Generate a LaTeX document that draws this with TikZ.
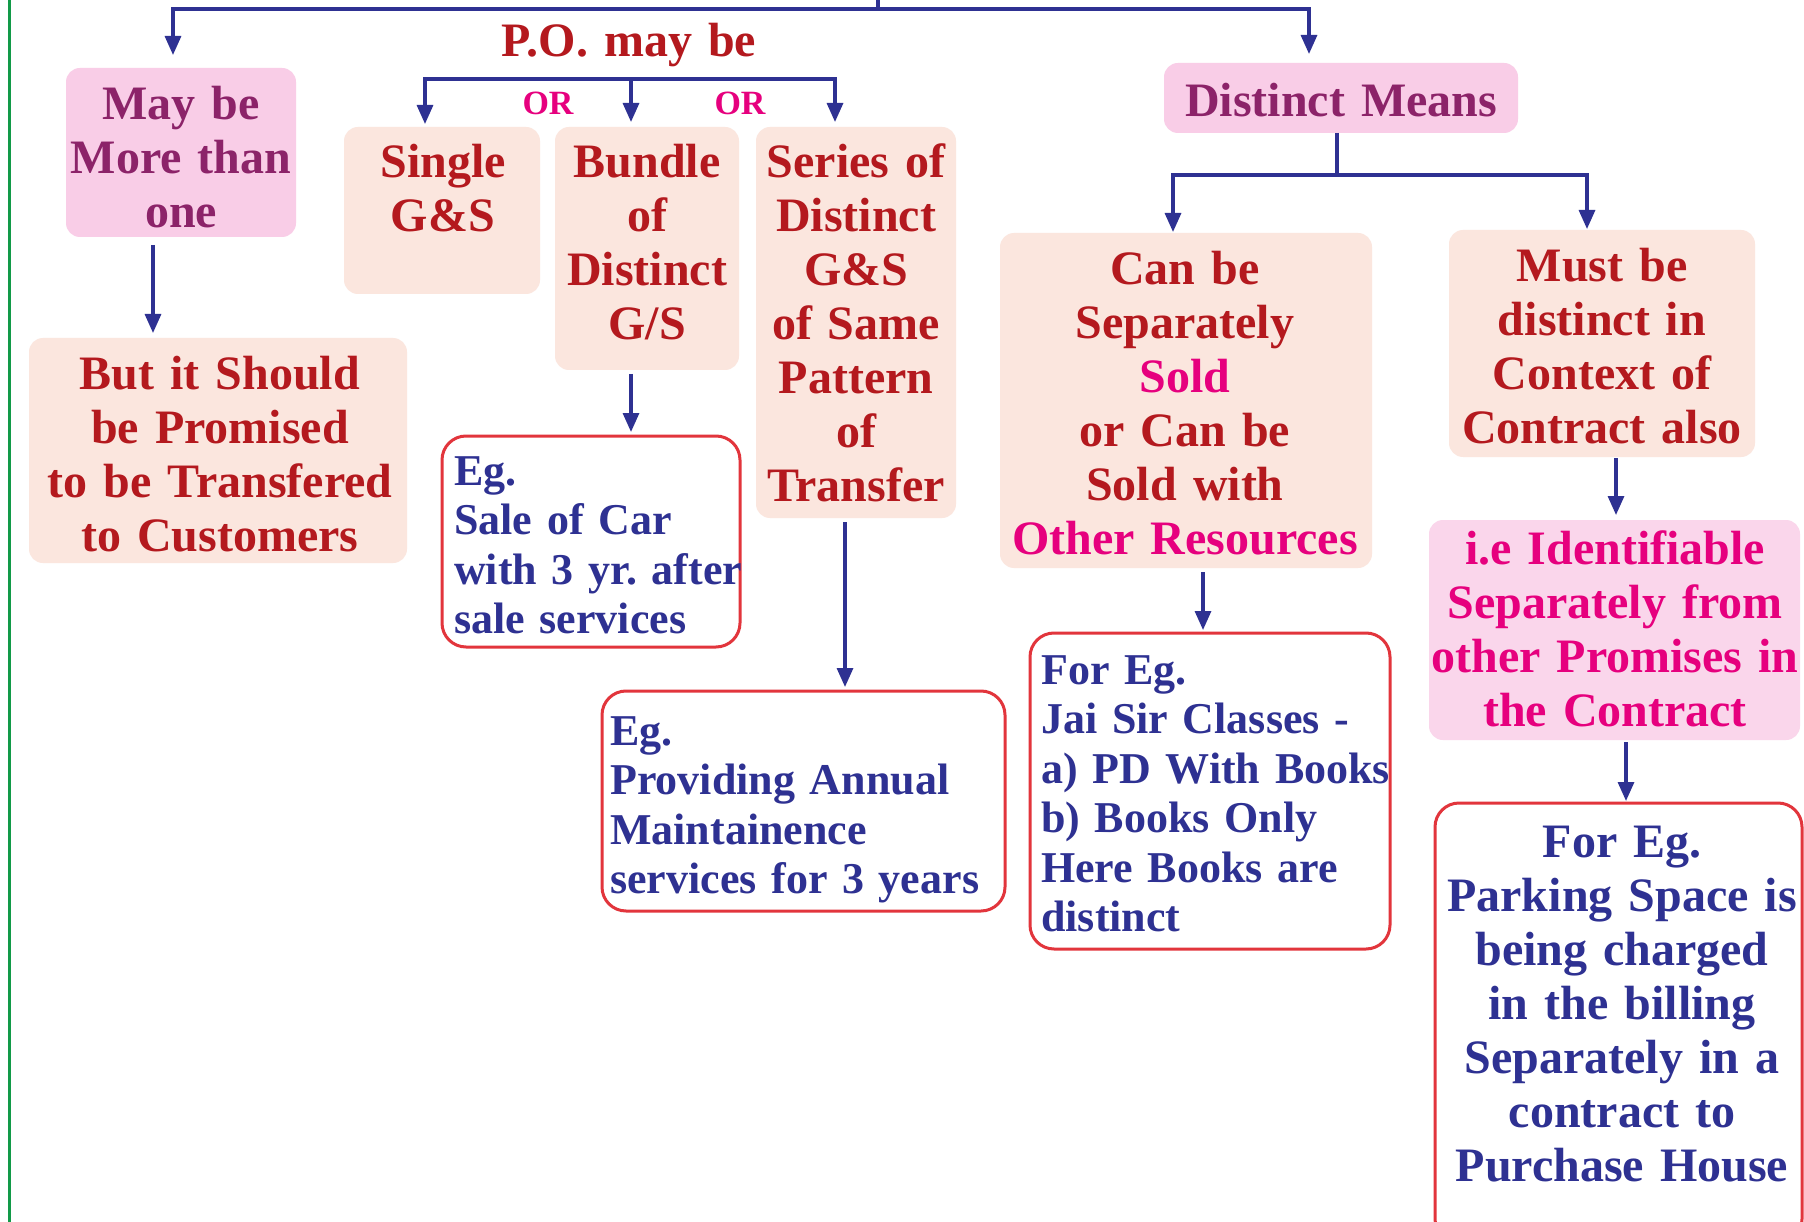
\documentclass[tikz,border=0pt]{standalone}
\usepackage{fontspec}
\setmainfont{Liberation Serif}
\usetikzlibrary{arrows.meta}
\definecolor{navy}{HTML}{2E3192}
\definecolor{darkredc}{HTML}{B4191E}
\definecolor{purplec}{HTML}{8C2369}
\definecolor{magentac}{HTML}{E6007E}
\definecolor{peachc}{HTML}{FBE6DE}
\definecolor{pinkc}{HTML}{F9CDE7}
\definecolor{pinkl}{HTML}{FAD6EB}
\definecolor{redc}{HTML}{E2353C}
\definecolor{greenc}{HTML}{129A48}
\begin{document}
\frenchspacing
\hyphenpenalty=10000
\begin{tikzpicture}[x=1pt,y=-1pt,
  line/.style={draw=navy, line width=3.2pt},
  arr/.style={line, -{Triangle[width=16pt,length=19pt]}},
  boxbase/.style={rounded corners=14pt, inner sep=0pt, outer sep=0pt, anchor=north west},
  peach/.style={boxbase, fill=peachc},
  pinkb/.style={boxbase, fill=pinkc},
  pinklb/.style={boxbase, fill=pinkl},
  redb/.style={boxbase, draw=redc, line width=3pt, fill=white, rounded corners=24pt},
  big/.style={font=\fontsize{48}{54}\selectfont\bfseries\frenchspacing, align=center, inner sep=0pt, anchor=base},
  small/.style={font=\fontsize{44}{49.5}\selectfont\bfseries\frenchspacing, align=left, inner sep=0pt, anchor=base west, text=navy},
  orlab/.style={font=\fontsize{34}{38}\selectfont\bfseries, inner sep=0pt, anchor=base, text=magentac},
]
\useasboundingbox (0,0) rectangle (1804,1222);
\clip (0,0) rectangle (1804,1222);
\fill[white] (0,0) rectangle (1804,1222);
\draw[greenc, line width=3pt] (9.5,0) -- (9.5,1222);

% boxes
\node[pinkb, minimum width=230pt, minimum height=169pt] (A) at (66,68) {};
\node[peach, minimum width=378pt, minimum height=225pt] (B) at (29,338) {};
\node[peach, minimum width=196pt, minimum height=167pt] (C) at (344,127) {};
\node[peach, minimum width=184pt, minimum height=243pt] (D) at (555,127) {};
\node[peach, minimum width=200pt, minimum height=391pt] (E) at (756,127) {};
\node[redb, minimum width=298pt, minimum height=211pt] (F) at (442,436) {};
\node[redb, minimum width=403pt, minimum height=220pt] (G) at (602,691) {};
\node[pinkb, minimum width=354pt, minimum height=70pt] (DM) at (1164,63) {};
\node[peach, minimum width=372pt, minimum height=335pt] (H) at (1000,233) {};
\node[peach, minimum width=306pt, minimum height=227pt] (I) at (1449,230) {};
\node[redb, minimum width=360pt, minimum height=316pt] (J) at (1030,633) {};
\node[pinklb, minimum width=371pt, minimum height=220pt] (K) at (1429,520) {};
\node[redb, minimum width=367pt, minimum height=440pt] (L) at (1435,803) {};

% texts
\node[big, text=darkredc, text width=270pt] (po) at (629,57) {P.O. may be};
\node[orlab] (or1) at (548,115) {OR};
\node[orlab] (or2) at (740,115) {OR};
\node[big, text=purplec, text width=225pt] (At) at (181,120) {May be\\More than\\one};
\node[big, text=darkredc, text width=360pt] (Bt) at (220,389) {But it Should\\be Promised\\to be Transfered\\to Customers};
\node[big, text=darkredc, text width=180pt] (Ct) at (443,178) {Single\\G\&S};
\node[big, text=darkredc, text width=175pt] (Dt) at (647,178) {Bundle\\of\\Distinct\\G/S};
\node[big, text=darkredc, text width=192pt] (Et) at (856,178) {Series of\\Distinct\\G\&S\\of Same\\Pattern\\of\\Transfer};
\node[small, text width=320pt] (Ft) at (454,485) {Eg.\\Sale of Car\\with 3 yr. after\\sale services};
\node[small, text width=390pt] (Gt) at (610,745) {Eg.\\Providing Annual\\Maintainence\\services for 3 years};
\node[big, text=purplec, text width=330pt] (DMt) at (1341,117) {Distinct Means};
\node[big, text=darkredc, text width=360pt] (Ht) at (1185,285) {Can be\\Separately\\\textcolor{magentac}{Sold}\\or Can be\\Sold with\\\textcolor{magentac}{Other Resources}};
\node[big, text=darkredc, text width=295pt] (It) at (1602,282) {Must be\\distinct in\\Context of\\Contract also};
\node[small, text width=370pt] (Jt) at (1041,684) {For Eg.\\Jai Sir Classes -\\a) PD With Books\\b) Books Only\\Here Books are\\distinct};
\node[big, text=magentac, text width=368pt] (Kt) at (1615,564) {i.e Identifiable\\Separately from\\other Promises in\\the Contract};
\node[big, text=navy, text width=360pt] (Lt) at (1622,857) {For Eg.\\Parking Space is\\being charged\\in the billing\\Separately in a\\contract to\\Purchase House};

% connectors
\coordinate (top) at (878,-5);
\coordinate (tm) at (878,9);
\coordinate (tl) at (173,9);
\coordinate (tr) at (1309,9);
\draw[line] (top) -- (tm);
\draw[arr, shorten >=13pt] (tm) -| (tl |- A.north);
\draw[arr, shorten >=9pt] (tm) -| (tr |- DM.north);

\coordinate (xab) at (153,0);
\draw[arr, shorten <=8pt, shorten >=5pt] (xab |- A.south) -- (xab |- B.north);

\coordinate (pl) at (425,79);
\coordinate (pm) at (631,79);
\coordinate (pr) at (835,79);
\draw[arr, shorten >=3pt] (pm) -| (pl |- C.north);
\draw[arr, shorten >=5pt] (pm) -- (pm |- D.north);
\draw[arr, shorten >=5pt] (pm) -| (pr |- E.north);

\draw[arr, shorten <=4pt, shorten >=4pt] (pm |- D.south) -- (pm |- F.north);
\coordinate (xeg) at (845,0);
\draw[arr, shorten <=4pt, shorten >=4pt] (xeg |- E.south) -- (xeg |- G.north);

\coordinate (dm) at (1337,175);
\coordinate (hl) at (1173,175);
\coordinate (hr) at (1587,175);
\draw[line] (dm |- DM.south) -- (dm);
\draw[arr, shorten >=1pt] (dm) -| (hl |- H.north);
\draw[arr, shorten >=1pt] (dm) -| (hr |- I.north);

\coordinate (xhj) at (1203,0);
\draw[arr, shorten <=4pt, shorten >=3pt] (xhj |- H.south) -- (xhj |- J.north);
\coordinate (xik) at (1616,0);
\draw[arr, shorten <=1pt, shorten >=5pt] (xik |- I.south) -- (xik |- K.north);
\coordinate (xkl) at (1626,0);
\draw[arr, shorten <=2pt, shorten >=2pt] (xkl |- K.south) -- (xkl |- L.north);
\end{tikzpicture}
\end{document}
